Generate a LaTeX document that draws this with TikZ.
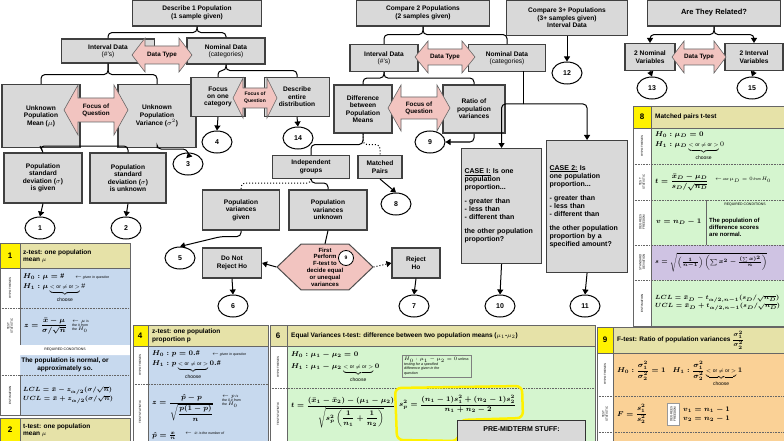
\documentclass[tikz,border=0pt]{standalone}
\usepackage{amsmath}
\usepackage{fontspec}
\setmainfont{Liberation Sans}
\usetikzlibrary{shapes.geometric,arrows.meta}
\definecolor{boxg}{HTML}{D9D9D9}
\definecolor{pinkf}{HTML}{F2C4C0}
\definecolor{hdr}{HTML}{E6E2A8}
\definecolor{yel}{HTML}{FFF200}
\definecolor{grn}{HTML}{D5F5CF}
\definecolor{blu}{HTML}{C7D9EE}
\definecolor{pur}{HTML}{CFC3E3}
\definecolor{org}{HTML}{FAD196}
\hyphenpenalty=10000
\newcommand\dblarrow[8]{%
 \filldraw[draw=black!60,fill=pinkf,line width=0.6pt,shift={(#2,#3)}] (-#4,0) -- (-#4+#7,-#5) -- (-#4+#7,-#6) -- (#4-#7,-#6) -- (#4-#7,-#5) -- (#4,0) -- (#4-#7,#5) -- (#4-#7,#6) -- (-#4+#7,#6) -- (-#4+#7,#5) -- cycle;
 \node[align=center,inner sep=0pt,font=\bfseries\fontsize{6.3}{7}\selectfont] (#1) at (#2,#3) {#8};}
\begin{document}
\begin{tikzpicture}[x=1pt,y=-1pt,
 box/.style={draw=black!75,line width=1.1pt,fill=boxg,align=center,inner sep=1pt,font=\bfseries\fontsize{6.6}{7.4}\selectfont},
 circ/.style={ellipse,draw,line width=1pt,fill=white,minimum width=30,minimum height=22,inner sep=0pt,font=\bfseries\fontsize{7}{8}\selectfont},
 ln/.style={line width=1pt,rounded corners=4pt},
 ar/.style={line width=1pt,rounded corners=4pt,-{Triangle[length=5pt,width=6pt]}},
 dt/.style={line width=1pt,dotted,rounded corners=4pt},
 tb/.style={draw=black!60,line width=0.6pt},
 sl/.style={rotate=90,font=\fontsize{3}{3.5}\selectfont,align=center},
 tx/.style={font=\fontsize{7}{8.5}\selectfont,align=left,inner sep=0pt,anchor=west},
 th/.style={font=\bfseries\fontsize{6.5}{7.5}\selectfont,align=left,inner sep=0pt,anchor=west},
 cbox/.style={box,align=left,anchor=north west,inner sep=3pt,font=\bfseries\fontsize{7}{8}\selectfont}]
\useasboundingbox (0,0) rectangle (784,441);
\fill[white] (0,0) rectangle (784,441);
% ---------- Describe 1 population
\node[box,minimum width=129,minimum height=26] (d1) at (197,13) {Describe 1 Population\\(1 sample given)};
\node[box,minimum width=93,minimum height=24] (i1) at (108,51) {Interval Data\\\mdseries(\#'s)};
\node[box,minimum width=78,minimum height=26] (n1) at (226,51) {Nominal Data\\\mdseries(categories)};
\node[box,minimum width=78,minimum height=63] (um) at (41,116) {Unknown\\Population\\Mean ($\mu$)};
\node[box,minimum width=78,minimum height=63] (uv) at (157,116) {Unknown\\Population\\Variance ($\sigma^2$)};
\node[box,minimum width=54,minimum height=39] (fc) at (218,97) {Focus\\on one\\category};
\node[box,minimum width=65,minimum height=39] (de) at (297,97) {Describe\\entire\\distribution};
\dblarrow{dt1}{162}{55}{30}{17}{9}{13}{Data Type}
\dblarrow{fq1}{96}{110}{32}{25}{12}{14}{Focus of\\Question}
\dblarrow{fq2}{255}{98}{22}{20}{10}{10}{\fontsize{5}{5.5}\selectfont Focus of\\\fontsize{5}{5.5}\selectfont Question}
\node[box,minimum width=78,minimum height=50] (sg) at (43,178) {Population\\standard\\deviation ($\sigma$)\\is given};
\node[box,minimum width=76,minimum height=50] (su) at (128,178) {Population\\standard\\deviation ($\sigma$)\\is unknown};
\node[circ] (c1) at (40,228) {1};
\node[circ] (c2) at (126,228) {2};
\node[circ] (c3) at (188,164) {3};
\node[circ] (c4) at (217,142) {4};
\node[circ] (c14) at (298,138) {14};
\coordinate (j1) at (40,146);
\draw[ln] (d1.south) -- ++(0,6) -| (i1.north);
\draw[ln] (d1.south) -- ++(0,6) -| (n1.north);
\draw[ln] (i1.south) -- ++(0,11) -| (um.north);
\draw[ln] (i1.south) -- ++(0,11) -| (uv.north);
\draw[ln] (n1.south) -- ++(0,6) -| (fc.north);
\draw[ln] (n1.south) -- ++(0,6) -| (de.north);
\draw[ln] (um.south) -- (j1) -| (su.north);
\draw[ln] (j1) -- (sg.north);
\draw[ar] (sg.south) -- (c1.north);
\draw[ar] (su.south) -- (c2.north);
\draw[ar] (uv.south) |- (187,149) -- (c3.north);
\draw[ar] (fc.south) -- (c4.north);
\draw[ar] (de.south) -- (c14.north);
% ---------- Compare 2 populations
\node[box,minimum width=133,minimum height=26] (d2) at (423,13) {Compare 2 Populations\\(2 samples given)};
\node[box,minimum width=68,minimum height=27] (i2) at (384,58) {Interval Data\\\mdseries(\#'s)};
\node[box,minimum width=77,minimum height=27] (n2) at (507,58) {Nominal Data\\\mdseries(categories)};
\node[box,minimum width=58,minimum height=48] (dm) at (363,109) {Difference\\between\\Population\\Means};
\node[box,minimum width=62,minimum height=48] (rv) at (474,109) {Ratio of\\population\\variances};
\dblarrow{dt2}{445}{57}{30}{16}{8}{13}{Data Type}
\dblarrow{fq3}{419}{108}{31}{23}{11}{13}{Focus of\\Question}
\node[circ] (c9) at (430,142) {9};
\node[box,minimum width=77,minimum height=23] (ig) at (311,167) {Independent\\groups};
\node[box,minimum width=44,minimum height=23] (mp) at (380,167) {Matched\\Pairs};
\node[circ] (c8) at (396,204) {8};
\node[box,minimum width=77,minimum height=40] (vg) at (241,210) {Population\\variances\\given};
\node[box,minimum width=78,minimum height=40] (vu) at (328,210) {Population\\variances\\unknown};
\node[circ] (c5) at (180,258) {5};
\node[box,minimum width=59,minimum height=30] (nr) at (232,263) {Do Not\\Reject Ho};
\node[regular polygon,regular polygon sides=6,draw=black!70,line width=1pt,fill=pinkf,minimum width=96,inner sep=0pt,yscale=0.55] (hx) at (325,267) {};
\node[align=center,font=\bfseries\fontsize{6}{6.8}\selectfont] (hxt) at (325,267) {First\\Perform\hspace{12pt}\\F-test to\\decide equal\\or unequal\\variances};
\node[circle,draw,fill=white,line width=0.8pt,minimum size=15,inner sep=0pt,font=\bfseries\fontsize{5}{6}\selectfont] (c9b) at (346,258) {9};
\node[box,minimum width=48,minimum height=30] (rj) at (416,263) {Reject\\Ho};
\node[circ] (c6) at (233,306) {6};
\node[circ] (c7) at (414,306) {7};
\draw[ln] (d2.south) -- ++(0,8) -| (i2.north);
\draw[ln] (d2.south) -- ++(0,8) -| (n2.north);
\draw[ln] (i2.south) -- ++(0,6) -| (dm.north);
\draw[ln] (i2.south) -- ++(0,6) -| (rv.north);
\draw[ar] (rv.south) |- (c9.east);
\draw[ln] (dm.south) -- ++(0,11) -| (ig.north);
\draw[dt] (dm.south) -- ++(0,11) -| (mp.north);
\draw[ar] (mp.south) -- (c8.north);
\draw[dt] (ig.south) -- ++(0,4) -| (vg.north);
\draw[ln] (ig.south) -- ++(0,4) -| (vu.north);
\draw[ar] (vg.south) |- ++(-20,6) -- (c5.north);
\draw[ln] (vu.south) -- (hx.north);
\draw[ar] (hx.west) -- (nr.east);
\draw[dt,-{Triangle[length=5pt,width=6pt]}] (hx.east) -- (rj.west);
\draw[ar] (nr.south) -- (c6.north);
\draw[ar] (rj.south) -- (c7.north);
% cases
\node[cbox,minimum width=80,minimum height=115,text width=74] (cs1) at (461,148) {\underline{CASE I:} Is one population proportion...\\[6pt]- greater than\\- less than\\- different than\\[6pt] the other population proportion?};
\node[cbox,minimum width=81,minimum height=132,text width=75] (cs2) at (546,140) {\underline{CASE 2:} Is one population proportion...\\[6pt]- greater than\\- less than\\- different than\\[6pt]the other population proportion by a specified amount?};
\node[circ] (c10) at (500,306) {10};
\node[circ] (c11) at (585,306) {11};
\coordinate (j2) at (523,104);
\draw[ln] (523,71.5) -- (j2);
\draw[ar] (j2) -| (cs1.north);
\draw[ar] (j2) -| (cs2.north);
\draw[ar] (cs1.south) -- (c10.north);
\draw[ar] (cs2.south) -- (c11.north);
% ---------- Compare 3+
\node[box,minimum width=121,minimum height=35] (d3) at (567,18) {Compare 3+ Populations\\(3+ samples given)\\Interval Data};
\node[circ] (c12) at (567,73) {12};
\draw[ar] (d3.south) -- (c12.north);
% ---------- Related
\node[box,minimum width=133,minimum height=26] (d4) at (714,13) {\fontsize{7.5}{8}\selectfont Are They Related?};
\node[box,minimum width=50,minimum height=27] (nv) at (650,57) {2 Nominal\\Variables};
\node[box,minimum width=58,minimum height=27] (iv) at (754,57) {2 Interval\\Variables};
\dblarrow{dt4}{699}{57}{27}{16}{8}{12}{Data Type}
\node[circ] (c13) at (652,88) {13};
\node[circ] (c15) at (752,88) {15};
\draw[ar] (d4.south) -- ++(0,8) -| (nv.north);
\draw[ar] (d4.south) -- ++(0,8) -| (iv.north);
\draw[ar] (nv.south) -- (c13.north);
\draw[ar] (iv.south) -- (c15.north);
% ---------- Table 8
\fill[grn] (633,106) rectangle (784,326);
\fill[hdr] (633,106) rectangle (784,128);
\fill[yel] (633,106) rectangle (651,128);
\fill[white] (633,128) rectangle (651,326);
\fill[pur] (651,245) rectangle (784,280);
\draw[tb] (633,106) rectangle (784,326);
\draw[tb] (651,106) -- (651,326) (633,128) -- (784,128);
\draw[tb,densely dotted] (633,164) -- (784,164) (633,200) -- (784,200) (633,245) -- (784,245) (633,280) -- (784,280);
\draw[tb] (706,200) -- (706,245);
\node[font=\bfseries\fontsize{8}{9}\selectfont] (t8n) at (642,117) {8};
\node[th] (t8h) at (655,117) {Matched pairs t-test};
\node[sl] (t8a) at (642,146) {HYPOTHESES};
\node[sl] (t8b) at (642,182) {TEST\\STATISTIC};
\node[sl] (t8c) at (642,222) {DEGREES\\FREEDOM};
\node[sl] (t8d) at (642,262) {STANDARD\\DEVIATION};
\node[sl] (t8e) at (642,303) {ESTIMATION};
\node[tx] (t8f) at (655,146) {$\boldsymbol{H_0:\mu_D=0}$\\[1pt]$\boldsymbol{H_1:\mu_D}\underbrace{\scriptscriptstyle <\text{ or }\neq\text{ or }>}_{\text{choose}}0$};
\node[tx] (t8g) at (655,182) {$\boldsymbol{t=\dfrac{\bar x_D-\mu_D}{s_D/\sqrt{n_D}}}$};
\node[tx,font=\itshape\fontsize{3.5}{4}\selectfont] (t8g2) at (715,180) {$\leftarrow$ use $\mu_D=0$ from $H_0$};
\node[tx] (t8i) at (656,222) {$\boldsymbol{v=n_D-1}$};
\node[font=\fontsize{3.5}{4}\selectfont] (t8j) at (745,205) {REQUIRED CONDITIONS};
\node[tx,font=\bfseries\fontsize{6}{7}\selectfont] (t8k) at (709,227) {The population of\\difference scores\\are normal.};
\node[tx,font=\fontsize{6.3}{7}\selectfont] (t8l) at (655,262) {$\boldsymbol{s=\sqrt{\left(\frac{1}{n-1}\right)\left(\sum x^2-\frac{(\sum x)^2}{n}\right)}}$};
\node[tx,font=\fontsize{6}{8}\selectfont] (t8m) at (655,303) {$\boldsymbol{LCL=\bar x_D-t_{\alpha/2,n-1}(s_D/\sqrt{n_D})}$\\$\boldsymbol{UCL=\bar x_D+t_{\alpha/2,n-1}(s_D/\sqrt{n_D})}$};
% ---------- Table 1
\fill[blu] (0,243) rectangle (130,415);
\fill[hdr] (0,243) rectangle (130,268);
\fill[yel] (0,243) rectangle (20,268);
\fill[white] (0,268) rectangle (20,415) (0,345) rectangle (130,355);
\draw[tb] (0,243) rectangle (130,415);
\draw[tb] (20,243) -- (20,345) (20,375) -- (20,415) (0,268) -- (130,268);
\draw[tb,densely dotted] (0,308) -- (130,308) (0,375) -- (130,375);
\node[font=\bfseries\fontsize{8}{9}\selectfont] (t1n) at (10,256) {1};
\node[th] (t1h) at (23,256) {z-test: one population\\mean $\mu$};
\node[sl] (t1a) at (10,288) {HYPOTHESES};
\node[sl] (t1b) at (10,326) {TEST\\STATISTIC};
\node[sl] (t1e) at (10,395) {ESTIMATION};
\node[tx] (t1f) at (23,288) {$\boldsymbol{H_0:\mu=\#}$\\[1pt]$\boldsymbol{H_1:\mu}\underbrace{\scriptscriptstyle <\text{ or }\neq\text{ or }>}_{\text{choose}}\#$};
\node[tx,font=\itshape\fontsize{3.5}{4}\selectfont] (t1f2) at (75,278) {$\leftarrow$ given in question};
\node[tx] (t1g) at (24,326) {$\boldsymbol{z=\dfrac{\bar x-\mu}{\sigma/\sqrt{n}}}$};
\node[tx,font=\itshape\fontsize{3.5}{4.2}\selectfont] (t1g2) at (72,326) {$\leftarrow\mu$ is\\the \# from\\the $H_0$};
\node[font=\fontsize{3.5}{4}\selectfont] (t1j) at (65,350) {REQUIRED CONDITIONS};
\node[align=center,font=\bfseries\fontsize{6.5}{8}\selectfont] (t1k) at (65,365) {The population is normal, or\\approximately so.};
\node[tx,font=\fontsize{6.5}{8}\selectfont] (t1m) at (23,395) {$\boldsymbol{LCL=\bar x-z_{\alpha/2}(\sigma/\sqrt{n})}$\\$\boldsymbol{UCL=\bar x+z_{\alpha/2}(\sigma/\sqrt{n})}$};
% ---------- Table 2
\fill[hdr] (0,418) rectangle (130,441);
\fill[yel] (0,418) rectangle (20,441);
\draw[tb] (0,418) rectangle (130,441) (20,418) -- (20,441);
\node[font=\bfseries\fontsize{8}{9}\selectfont] (t2n) at (10,430) {2};
\node[th] (t2h) at (23,430) {t-test: one population\\mean $\mu$};
% ---------- Table 4
\fill[blu] (133,325) rectangle (268,441);
\fill[hdr] (133,325) rectangle (268,346);
\fill[yel] (133,325) rectangle (148,346);
\fill[white] (133,346) rectangle (148,441);
\draw[tb] (133,325) rectangle (268,441) (148,325) -- (148,441) (133,346) -- (268,346);
\draw[tb,densely dotted] (133,384) -- (268,384);
\node[font=\bfseries\fontsize{8}{9}\selectfont] (t4n) at (140,336) {4};
\node[th] (t4h) at (152,336) {z-test: one population\\proportion p};
\node[sl] (t4a) at (140,365) {HYPOTHESES};
\node[sl] (t4b) at (140,412) {TEST STATISTIC};
\node[tx] (t4f) at (152,365) {$\boldsymbol{H_0:p=0.\#}$\\[1pt]$\boldsymbol{H_1:p}\underbrace{\scriptscriptstyle <\text{ or }\neq\text{ or }>}_{\text{choose}}\boldsymbol{0.\#}$};
\node[tx,font=\itshape\fontsize{3.5}{4}\selectfont] (t4f2) at (212,355) {$\leftarrow$ given in question};
\node[tx] (t4g) at (152,408) {$\boldsymbol{z=\dfrac{\hat p-p}{\sqrt{\dfrac{p(1-p)}{n}}}}$};
\node[tx,font=\itshape\fontsize{3.5}{4.2}\selectfont] (t4g2) at (222,401) {$\leftarrow p$ is\\the 0.\# from\\the $H_0$};
\node[tx] (t4h2) at (152,436) {$\boldsymbol{\hat p=\frac{x}{n}}$};
\node[tx,font=\itshape\fontsize{3.5}{4}\selectfont] (t4h3) at (185,433) {$\leftarrow x$ is the number of};
% ---------- Table 6
\fill[grn] (270,325) rectangle (595,441);
\fill[hdr] (270,325) rectangle (595,346);
\fill[white] (270,346) rectangle (287,441);
\draw[tb] (270,325) rectangle (595,441) (287,325) -- (287,441) (270,346) -- (595,346);
\draw[tb,densely dotted] (270,388) -- (595,388);
\node[font=\bfseries\fontsize{8}{9}\selectfont] (t6n) at (278,336) {6};
\node[th] (t6h) at (291,336) {Equal Variances t-test: difference between two population means ($\mu_1$-$\mu_2$)};
\node[sl] (t6a) at (278,367) {HYPOTHESES};
\node[sl] (t6b) at (278,414) {TEST STATISTIC};
\node[tx] (t6f) at (291,367) {$\boldsymbol{H_0:\mu_1-\mu_2=0}$\\[3pt]$\boldsymbol{H_1:\mu_1-\mu_2}\underbrace{\scriptscriptstyle <\text{ or }\neq\text{ or }>}_{\text{choose}}\boldsymbol{0}$};
\node[draw=black!50,tx,font=\itshape\fontsize{3.6}{4.5}\selectfont,inner sep=2pt] (t6n2) at (402,366) {$H_0:\mu_1-\mu_2=0$ unless\\testing for a specified\\difference given in the\\question};
\node[tx] (t6g) at (291,413) {$\boldsymbol{t=\dfrac{(\bar x_1-\bar x_2)-(\mu_1-\mu_2)}{\sqrt{s_p^2\left(\dfrac{1}{n_1}+\dfrac{1}{n_2}\right)}}}$};
\node[tx] (t6s) at (399,404) {$\boldsymbol{s_p^2=\dfrac{(n_1-1)s_1^2+(n_2-1)s_2^2}{n_1+n_2-2}}$};
\draw[yel,line width=2.5pt,rounded corners=6pt] (395,388) -- (522,386) -- (523,418) -- (460,420) -- (458,441) -- (397,440) -- cycle;
\node[draw=black!80,line width=1.2pt,fill=boxg,minimum width=128,minimum height=24,anchor=north west,font=\bfseries\fontsize{7}{8}\selectfont,text depth=8pt] (pm) at (457,420) {PRE-MIDTERM STUFF:};
% ---------- Table 9
\fill[org] (597,327) rectangle (784,441);
\fill[hdr] (597,327) rectangle (784,353);
\fill[yel] (597,327) rectangle (613,353);
\fill[white] (597,353) rectangle (613,441);
\draw[tb] (597,327) rectangle (784,441) (613,327) -- (613,441) (597,353) -- (784,353);
\draw[tb,densely dotted] (597,396) -- (784,396) (597,432) -- (784,432);
\node[font=\bfseries\fontsize{8}{9}\selectfont] (t9n) at (605,340) {9};
\node[th] (t9h) at (617,340) {F-test: Ratio of population variances $\boldsymbol{\dfrac{\sigma_1^2}{\sigma_2^2}}$};
\node[sl] (t9a) at (605,374) {HYPOTHESES};
\node[sl] (t9b) at (605,414) {TEST\\STATISTIC};
\node[tx] (t9f) at (617,374) {$\boldsymbol{H_0:\dfrac{\sigma_1^2}{\sigma_2^2}=1\quad H_1:\dfrac{\sigma_1^2}{\sigma_2^2}}\underbrace{\scriptscriptstyle <\text{ or }\neq\text{ or }>}_{\text{choose}}\boldsymbol{1}$};
\node[tx] (t9g) at (617,414) {$\boldsymbol{F=\dfrac{s_1^2}{s_2^2}}$};
\node[draw=black!40,fill=white,rotate=90,font=\fontsize{3}{3.5}\selectfont,align=center] (t9df) at (673,414) {DEGREES\\FREEDOM};
\node[tx] (t9v) at (683,414) {$\boldsymbol{v_1=n_1-1}$\\$\boldsymbol{v_2=n_2-1}$};
\end{tikzpicture}
\end{document}
